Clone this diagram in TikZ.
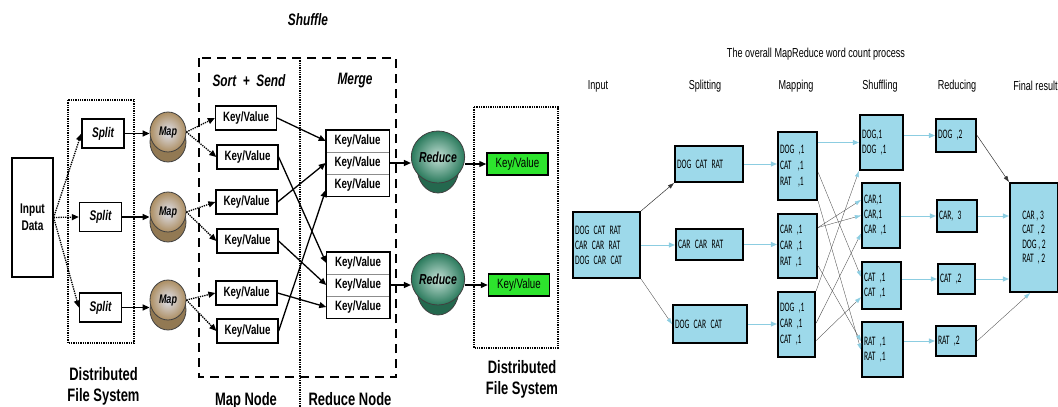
\documentclass[tikz,border=0pt]{standalone}
\usepackage{fontspec}
\setmainfont{Liberation Sans}
\newfontfamily\narrowsans[FakeStretch=0.72]{Liberation Sans}
\newfontfamily\headsans[FakeStretch=0.7]{Liberation Sans}
\newfontfamily\boxsans[FakeStretch=0.58]{Carlito}
\usepackage{xcolor}
\usetikzlibrary{arrows.meta,calc,shapes.geometric}

\definecolor{maptan}{RGB}{172,142,98}
\definecolor{mapface}{RGB}{224,226,238}
\definecolor{redteal}{RGB}{42,122,92}
\definecolor{redface}{RGB}{196,224,214}
\definecolor{outgreen}{RGB}{45,228,45}
\definecolor{wcfill}{RGB}{157,217,234}
\definecolor{wcarrow}{RGB}{140,205,225}

\tikzset{
  lbox/.style={draw, line width=1.3pt, fill=white, inner sep=0pt},
  kvbox/.style={lbox, minimum width=61, minimum height=24,
    font=\narrowsans\bfseries\fontsize{13.5}{14}\selectfont},
  kvrow/.style={draw=black!45, line width=0.5pt, fill=white, inner sep=0pt,
    minimum width=63, minimum height=22,
    font=\narrowsans\bfseries\fontsize{13.5}{14}\selectfont},
  splitbox/.style={lbox, minimum width=42, minimum height=29,
    font=\narrowsans\bfseries\itshape\fontsize{14}{14}\selectfont},
  outbox/.style={draw, line width=1.5pt, fill=outgreen, inner sep=0pt,
    minimum width=61, minimum height=22,
    font=\narrowsans\fontsize{13.5}{14}\selectfont},
  mapface/.style={ellipse, draw=black!75, line width=0.8pt, inner sep=0pt,
    minimum width=36, minimum height=40, inner color=mapface, outer color=maptan,
    font=\narrowsans\bfseries\itshape\fontsize{12.5}{13}\selectfont},
  mapbase/.style={ellipse, draw=black!75, line width=0.8pt, fill=maptan!85!black,
    minimum width=36, minimum height=40},
  redface/.style={ellipse, draw=black!75, line width=0.8pt, inner sep=0pt,
    minimum width=42, minimum height=52, inner color=redface, outer color=redteal,
    font=\narrowsans\bfseries\itshape\fontsize{14.5}{15}\selectfont},
  redbase/.style={ellipse, draw=black!75, line width=0.8pt, fill=redteal!85!black,
    minimum width=42, minimum height=52},
  heading/.style={font=\narrowsans\bfseries\itshape\fontsize{16.5}{17}\selectfont},
  caption/.style={align=center, anchor=base,
    font=\narrowsans\bfseries\fontsize{18}{21}\selectfont},
  dotarrow/.style={line width=1.3pt, densely dotted, -{Triangle[length=7pt,width=6pt]}},
  solarrow/.style={line width=1.3pt, -{Triangle[length=7pt,width=6pt]}},
  wcbox/.style={draw, line width=2.2pt, fill=wcfill, inner xsep=2pt, inner ysep=0pt,
    align=left, font=\boxsans\fontsize{13}{15}\selectfont},
  wchead/.style={font=\headsans\fontsize{13}{14}\selectfont},
  bluearrow/.style={draw=wcarrow, line width=0.9pt, -{Triangle[length=6pt,width=5pt]}},
  crossline/.style={draw=black!70, line width=0.35pt, -{Triangle[length=6pt,width=4pt,color=wcarrow]}},
  blackline/.style={draw=black!80, line width=0.5pt, -{Triangle[length=6pt,width=4pt]}}
}

\begin{document}
\begin{tikzpicture}[x=1pt,y=-1pt]
  \useasboundingbox (0,0) rectangle (1058,407);
  % ---------------- left picture ----------------
  % frames
  \draw[line width=1.3pt, densely dotted] (68,100) rectangle (134,343);
  \draw[line width=1.3pt, densely dotted] (474,107) rectangle (558,348);
  \draw[line width=1.3pt, dash pattern=on 9pt off 6pt] (199,58) rectangle (396,377);
  \draw[line width=1.3pt, densely dotted] (300,58) -- (300,407);
  % titles
  \node[heading] (shuffle) at (308,20) {Shuffle};
  \node[heading] (sortsend) at (249,81) {Sort~~+~~Send};
  \node[heading] (merge) at (355,81) {Merge};
  \node[caption] (dfsleft) at (103.5,401) {Distributed\\File System};
  \node[caption] (dfsright) at (522,394) {Distributed\\File System};
  \node[caption] (mapnode) at (246,405) {Map Node};
  \node[caption] (reducenode) at (350,405) {Reduce Node};
  % input and splits
  \node[lbox, minimum width=41, minimum height=119, align=center,
    font=\narrowsans\bfseries\fontsize{14}{17}\selectfont] (input) at (32.5,217.5) {Input\\Data};
  \node[splitbox] (split1) at (103,133.5) {Split};
  \node[splitbox] (split2) at (100.5,217) {Split};
  \node[splitbox] (split3) at (100.5,307.5) {Split};
  % map cylinders
  \foreach \n/\y in {1/137,2/217,3/305} {
    \node[mapbase] (mapb\n) at (168,\y+5) {};
    \node[mapface] (map\n) at (168,\y-5) {\raisebox{2pt}{Map}};
  }
  % sorted key/value pairs
  \node[kvbox] (kv1) at (246,118) {Key/Value};
  \node[kvbox] (kv2) at (247.5,157) {Key/Value};
  \node[kvbox] (kv3) at (246.5,202) {Key/Value};
  \node[kvbox] (kv4) at (247.5,241) {Key/Value};
  \node[kvbox] (kv5) at (246.5,293) {Key/Value};
  \node[kvbox] (kv6) at (247.5,331) {Key/Value};
  % merged lists
  \node[kvrow] (ua) at (357.5,141) {Key/Value};
  \node[kvrow] (ub) at (357.5,163) {Key/Value};
  \node[kvrow] (uc) at (357.5,185) {Key/Value};
  \node[kvrow] (la) at (358,263) {Key/Value};
  \node[kvrow] (lb) at (358,285) {Key/Value};
  \node[kvrow] (lc) at (358,307) {Key/Value};
  \draw[line width=1.5pt] (ua.north west) rectangle (uc.south east);
  \draw[line width=1.5pt] (la.north west) rectangle (lc.south east);
  % reduce cylinders
  \foreach \n/\y in {1/162,2/284} {
    \node[redbase] (redb\n) at (438,\y+5) {};
    \node[redface] (red\n) at (438,\y-5) {Reduce};
  }
  % output
  \node[outbox] (out1) at (517.5,164) {Key/Value};
  \node[outbox] (out2) at (519,285) {Key/Value};
  % connectors
  \draw[dotarrow] (input.east) -- (split1.west);
  \draw[dotarrow] (input.east) -- (split2.west);
  \draw[dotarrow] (input.east) -- (split3.west);
  \foreach \n in {1,2,3}
    \draw[solarrow] (split\n.east) -- (split\n.east -| map\n.west);
  \draw[dotarrow] (map1.east) -- (kv1.west);
  \draw[dotarrow] (map1.east) -- (kv2.west);
  \draw[dotarrow] (map2.east) -- (kv3.west);
  \draw[dotarrow] (map2.east) -- (kv4.west);
  \draw[dotarrow] (map3.east) -- (kv5.west);
  \draw[dotarrow] (map3.east) -- (kv6.west);
  \draw[solarrow] (kv1.east) -- (ua.west);
  \draw[solarrow] (kv3.east) -- (ub.west);
  \draw[solarrow] (kv6.east) -- ([yshift=-5pt]uc.west);
  \draw[solarrow] (kv2.east) -- (la.west);
  \draw[solarrow] (kv4.east) -- (lb.west);
  \draw[solarrow] (kv5.east) -- (lc.west);
  \draw[solarrow] (ub.east) -- (ub.east -| red1.west);
  \draw[solarrow] (lb.east) -- (lb.east -| red2.west);
  \draw[solarrow] (out1.west -| red1.east) -- (out1.west);
  \draw[solarrow] (out2.west -| red2.east) -- (out2.west);

  % ---------------- right picture ----------------
  \node[wchead] (wctitle) at (816,54) {The overall MapReduce word count process};
  \node[wchead] (hinput) at (598,86) {Input};
  \node[wchead] (hsplit) at (705,86) {Splitting};
  \node[wchead] (hmap) at (796,86) {Mapping};
  \node[wchead] (hshuf) at (880,86) {Shuffling};
  \node[wchead] (hred) at (957,86) {Reducing};
  \node[wchead] (hfinal) at (1035.5,86) {Final result};
  % boxes
  \node[wcbox, text width=63, minimum height=66] (in) at (606.5,245)
    {DOG CAT RAT\\CAR CAR RAT\\DOG CAR CAT};
  \node[wcbox, text width=64, minimum height=36] (sp1) at (709,164) {DOG CAT RAT};
  \node[wcbox, text width=63, minimum height=31] (sp2) at (709.5,244.5) {CAR CAR RAT};
  \node[wcbox, text width=70, minimum height=38] (sp3) at (710,324) {DOG CAR CAT};
  \node[wcbox, text width=35, minimum height=68, font=\boxsans\fontsize{13}{16}\selectfont]
    (m1) at (797.5,166) {DOG ,1\\CAT \,,1\\RAT \,,1};
  \node[wcbox, text width=35, minimum height=64, font=\boxsans\fontsize{13}{16}\selectfont]
    (m2) at (797.5,246) {CAR ,1\\CAR ,1\\RAT ,1};
  \node[wcbox, text width=33, minimum height=65, font=\boxsans\fontsize{13}{16}\selectfont]
    (m3) at (796.5,324.5) {DOG ,1\\CAR ,1\\CAT ,1};
  \node[wcbox, text width=39, minimum height=55] (s1) at (881.5,142.5) {DOG,1\\DOG ,1};
  \node[wcbox, text width=34, minimum height=65] (s2) at (881,215.5) {CAR,1\\CAR,1\\CAR ,1};
  \node[wcbox, text width=35, minimum height=47] (s3) at (881.5,285.5) {CAT ,1\\CAT ,1};
  \node[wcbox, text width=37, minimum height=55] (s4) at (882.5,349.5) {RAT ,1\\RAT ,1};
  \node[wcbox, text width=36, minimum height=33] (r1) at (956,135.5) {DOG ,2};
  \node[wcbox, text width=36, minimum height=32] (r2) at (957,216) {CAR, 3};
  \node[wcbox, text width=33, minimum height=30] (r3) at (956.5,279) {CAT ,2};
  \node[wcbox, text width=36, minimum height=30] (r4) at (956,341) {RAT ,2};
  \node[wcbox, minimum width=48, minimum height=109, font=\boxsans\fontsize{13}{14.5}\selectfont]
    (fin) at (1034,237.5) {CAR , 3\\CAT \,, 2\\DOG , 2\\RAT \,, 2};
  % input to splits
  \draw[blackline] (in.north east) -- (sp1.south west);
  \draw[bluearrow] (in.east) -- (in.east -| sp2.west);
  \draw[crossline] (in.south east) -- (sp3.west);
  % splits to maps
  \draw[bluearrow] (sp1.east) -- (sp1.east -| m1.west);
  \draw[bluearrow] (sp2.east) -- (sp2.east -| m2.west);
  \draw[bluearrow] (sp3.east) -- (sp3.east -| m3.west);
  % maps to shuffle
  \draw[bluearrow] (s1.west -| m1.east) -- (s1.west);
  \draw[crossline] ($(m1.north east)!0.59!(m1.south east)$) -- ($(s3.north west)!0.32!(s3.south west)$);
  \draw[crossline] (m1.south east) -- ($(s4.north west)!0.5!(s4.south west)$);
  \draw[crossline] ($(m2.north east)!0.22!(m2.south east)$) -- ($(s2.north west)!0.27!(s2.south west)$);
  \draw[crossline] ($(m2.north east)!0.22!(m2.south east)$) -- ($(s2.north west)!0.5!(s2.south west)$);
  \draw[crossline] ($(m2.north east)!0.8!(m2.south east)$) -- ($(s4.north west)!0.35!(s4.south west)$);
  \draw[crossline] (m3.north east) -- (s1.south west);
  \draw[crossline] ($(m3.north east)!0.48!(m3.south east)$) -- ($(s2.north west)!0.77!(s2.south west)$);
  \draw[crossline] ($(m3.north east)!0.74!(m3.south east)$) -- ($(s3.north west)!0.74!(s3.south west)$);
  % shuffle to reduce
  \draw[bluearrow] (r1.west -| s1.east) -- (r1.west);
  \draw[bluearrow] (r2.west -| s2.east) -- (r2.west);
  \draw[bluearrow] (r3.west -| s3.east) -- (r3.west);
  \draw[bluearrow] (r4.west -| s4.east) -- (r4.west);
  % reduce to result
  \draw[blackline] (r1.east) -- (fin.north west);
  \draw[bluearrow] (r2.east) -- (r2.east -| fin.west);
  \draw[bluearrow] (r3.east) -- (r3.east -| fin.west);
  \draw[crossline] (r4.east) -- ($(fin.south west)!0.42!(fin.south east)$);
\end{tikzpicture}
\end{document}
